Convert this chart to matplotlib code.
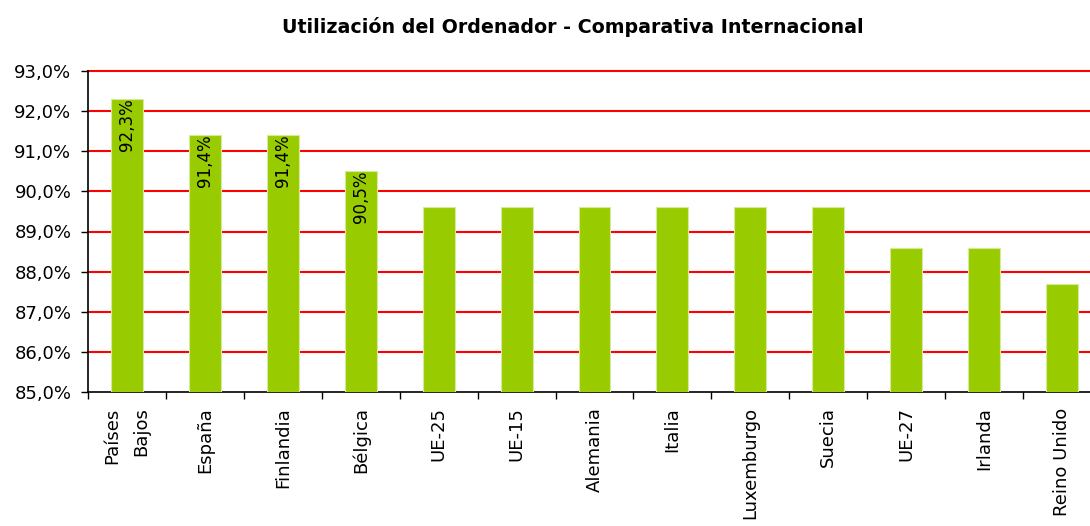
import matplotlib
matplotlib.use('Agg')
import matplotlib.pyplot as plt
import numpy as np

plt.rcParams['font.family'] = ['DejaVu Sans']

# Data
categories = ['Países\nBajos', 'España', 'Finlandia', 'Bélgica', 'UE-25', 'UE-15',
              'Alemania', 'Italia', 'Luxemburgo', 'Suecia', 'UE-27', 'Irlanda',
              'Reino Unido']
values = [92.3, 91.4, 91.4, 90.5, 89.6, 89.6, 89.6, 89.6, 89.6, 89.6, 88.6, 88.6, 87.7]
labelled = [0, 1, 2, 3]  # bars that carry a value label
yticks = [85, 86, 87, 88, 89, 90, 91, 92, 93]

fig = plt.figure(figsize=(10.9, 5.26), dpi=100)
# axes run past the right edge of the image like the original
ax = fig.add_axes([88 / 1090, 1 - 392 / 526, 1013 / 1090, 321 / 526])

x = np.arange(len(categories))
bars = ax.bar(x, [v - 85 for v in values], bottom=85, width=0.41,
              color='#99CC00', edgecolor='#d4ec99', linewidth=0.8, zorder=3)

ax.set_ylim(85, 93)
ax.set_xlim(-0.5, len(categories) - 0.5)
ax.set_yticks(yticks)
ax.set_yticklabels([('%.1f%%' % t).replace('.', ',') for t in yticks])
ax.yaxis.set_tick_params(labelsize=13, length=5, width=1, direction='out', pad=7)

for y in yticks[1:]:
    ax.axhline(y, color='red', linewidth=1.5, zorder=1, clip_on=False)

# x ticks between categories, labels at centers
ax.set_xticks(np.arange(-0.5, len(categories), 1))
ax.set_xticklabels([])
ax.set_xticks(x, minor=True)
ax.set_xticklabels(categories, minor=True, rotation=90, fontsize=13,
                   va='top', ha='center', linespacing=1.75,
                   multialignment='right')
ax.tick_params(axis='x', which='minor', length=0, pad=11)
ax.tick_params(axis='x', which='major', length=5, width=1)

for sp in ['top', 'right']:
    ax.spines[sp].set_visible(False)
ax.spines['left'].set_linewidth(1.2)
ax.spines['bottom'].set_linewidth(1.2)

for i in labelled:
    ax.text(x[i], values[i] + 0.02, ('%.1f%%' % values[i]).replace('.', ','),
            rotation=90, ha='center', va='top', fontsize=12, zorder=4)

fig.text(573 / 1090, 1 - 27 / 526,
         'Utilización del Ordenador - Comparativa Internacional',
         ha='center', va='center', fontsize=13.7, fontweight='bold')

fig.savefig('out.png', dpi=100)
